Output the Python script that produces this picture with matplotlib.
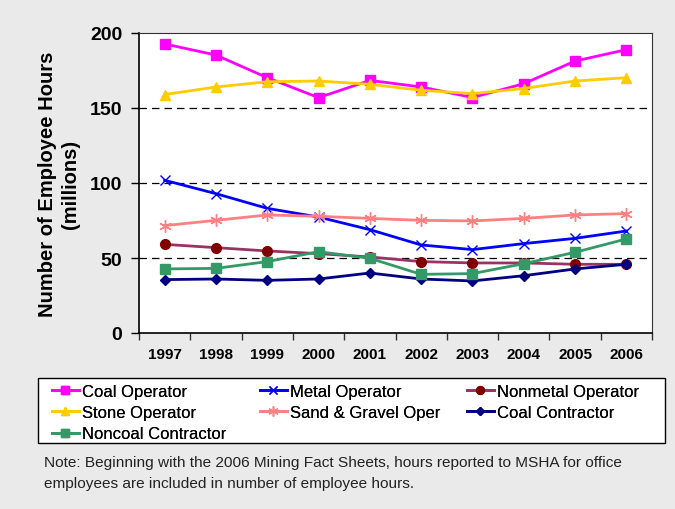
import matplotlib

matplotlib.use("Agg")
import matplotlib.pyplot as plt
from matplotlib.patches import Rectangle

plt.rcParams["font.family"] = ["Liberation Sans", "DejaVu Sans"]

years = ["1997", "1998", "1999", "2000", "2001", "2002", "2003", "2004", "2005", "2006"]

coal_operator = [192.7, 185.3, 170.2, 156.9, 168.4, 164.0, 157.0, 166.2, 181.3, 188.9]
metal_operator = [101.8, 92.9, 83.1, 77.3, 68.9, 58.7, 55.6, 59.6, 63.1, 68.0]
nonmetal_operator = [59.1, 56.9, 54.7, 52.9, 50.7, 47.6, 46.7, 46.7, 45.8, 45.8]
stone_operator = [159.0, 164.0, 167.5, 168.0, 165.8, 161.8, 159.6, 163.0, 168.0, 170.2]
sand_gravel = [71.6, 75.1, 78.7, 77.8, 76.4, 75.1, 74.7, 76.4, 78.7, 79.6]
coal_contractor = [35.6, 36.0, 35.1, 36.0, 40.0, 36.0, 34.7, 38.2, 42.7, 45.8]
noncoal_contractor = [42.7, 43.1, 47.6, 54.2, 49.8, 39.1, 39.6, 46.2, 53.8, 62.7]

series = [
    ("Coal Operator", coal_operator, "#FF00FF", "#FF00FF", "s", 6.5),
    ("Metal Operator", metal_operator, "#0000FF", "#0000FF", "x", 7.5),
    ("Nonmetal Operator", nonmetal_operator, "#993366", "#800000", "o", 7),
    ("Stone Operator", stone_operator, "#FFCC00", "#FFCC00", "^", 7),
    ("Sand & Gravel Oper", sand_gravel, "#FF8080", "#FF8080", (6, 2, 0), 9),
    ("Coal Contractor", coal_contractor, "#000080", "#000080", "D", 5.5),
    ("Noncoal Contractor", noncoal_contractor, "#339966", "#339966", "s", 6.5),
]

bg = "#eaeaea"
W, H = 675, 510
fig = plt.figure(figsize=(6.75, 5.1), dpi=100, facecolor=bg)
ax = fig.add_axes([139 / W, 1 - 334 / H, 513 / W, 300 / H])
ax.set_facecolor("white")

x = list(range(len(years)))
handles = {}
for name, vals, lc, mc, mk, ms in series:
    (h,) = ax.plot(x, vals, color=lc, lw=2.0, marker=mk, markersize=ms,
                   markerfacecolor=mc, markeredgecolor=mc, markeredgewidth=1.0,
                   label=name)
    handles[name] = h

ax.set_xlim(-0.5, len(years) - 0.5)
ax.set_ylim(0, 200)
ax.set_yticks([0, 50, 100, 150, 200])
for yv in [50, 100, 150]:
    ax.axhline(yv, color="black", lw=0.9, ls=(0, (6, 4)), zorder=0)

ax.set_xticks([i - 0.5 for i in range(len(years) + 1)], minor=False)
ax.set_xticklabels([])
ax.set_xticks(x, minor=True)
ax.set_xticklabels(years, minor=True, fontsize=11, fontweight="bold")
ax.tick_params(axis="x", which="major", direction="out", length=5, width=1, color="#333333")
ax.tick_params(axis="x", which="minor", length=0, pad=10)
ax.tick_params(axis="y", direction="out", length=6, width=1, pad=6)
for lbl in ax.get_yticklabels():
    lbl.set_fontsize(14)
    lbl.set_fontweight("bold")

ax.spines["left"].set_color("black")
ax.spines["left"].set_linewidth(1.2)
ax.spines["bottom"].set_color("black")
ax.spines["bottom"].set_linewidth(1.2)
ax.spines["top"].set_color("#333333")
ax.spines["right"].set_color("#333333")
ax.spines["top"].set_linewidth(0.8)
ax.spines["right"].set_linewidth(0.8)

ax.set_ylabel("Number of Employee Hours\n(millions)", fontsize=14.5,
              fontweight="bold", labelpad=7, linespacing=1.3)

# legend box, then one legend per column so columns sit where they do in the original
fig.patches.append(Rectangle((38 / W, 1 - 444 / H), 627 / W, 65 / H,
                             transform=fig.transFigure, facecolor="white",
                             edgecolor="black", lw=1.0, zorder=0))
columns = [
    (52, ["Coal Operator", "Stone Operator", "Noncoal Contractor"]),
    (260, ["Metal Operator", "Sand & Gravel Oper"]),
    (467, ["Nonmetal Operator", "Coal Contractor"]),
]
for x0, names in columns:
    leg = fig.legend([handles[n] for n in names], names, loc="upper left",
                     bbox_to_anchor=(x0 / W, 1 - 385 / H), frameon=False,
                     fontsize=12, handlelength=1.6, handletextpad=0.2,
                     borderpad=0, borderaxespad=0, labelspacing=0.37,
                     markerscale=0.8)
    fig.add_artist(leg)

fig.text(44 / W, 1 - 456 / H,
         "Note: Beginning with the 2006 Mining Fact Sheets, hours reported to MSHA for office\n"
         "employees are included in number of employee hours.",
         fontsize=11.1, va="top", ha="left", color="#222222", linespacing=1.6)

fig.savefig("out.png", dpi=100, facecolor=bg)
